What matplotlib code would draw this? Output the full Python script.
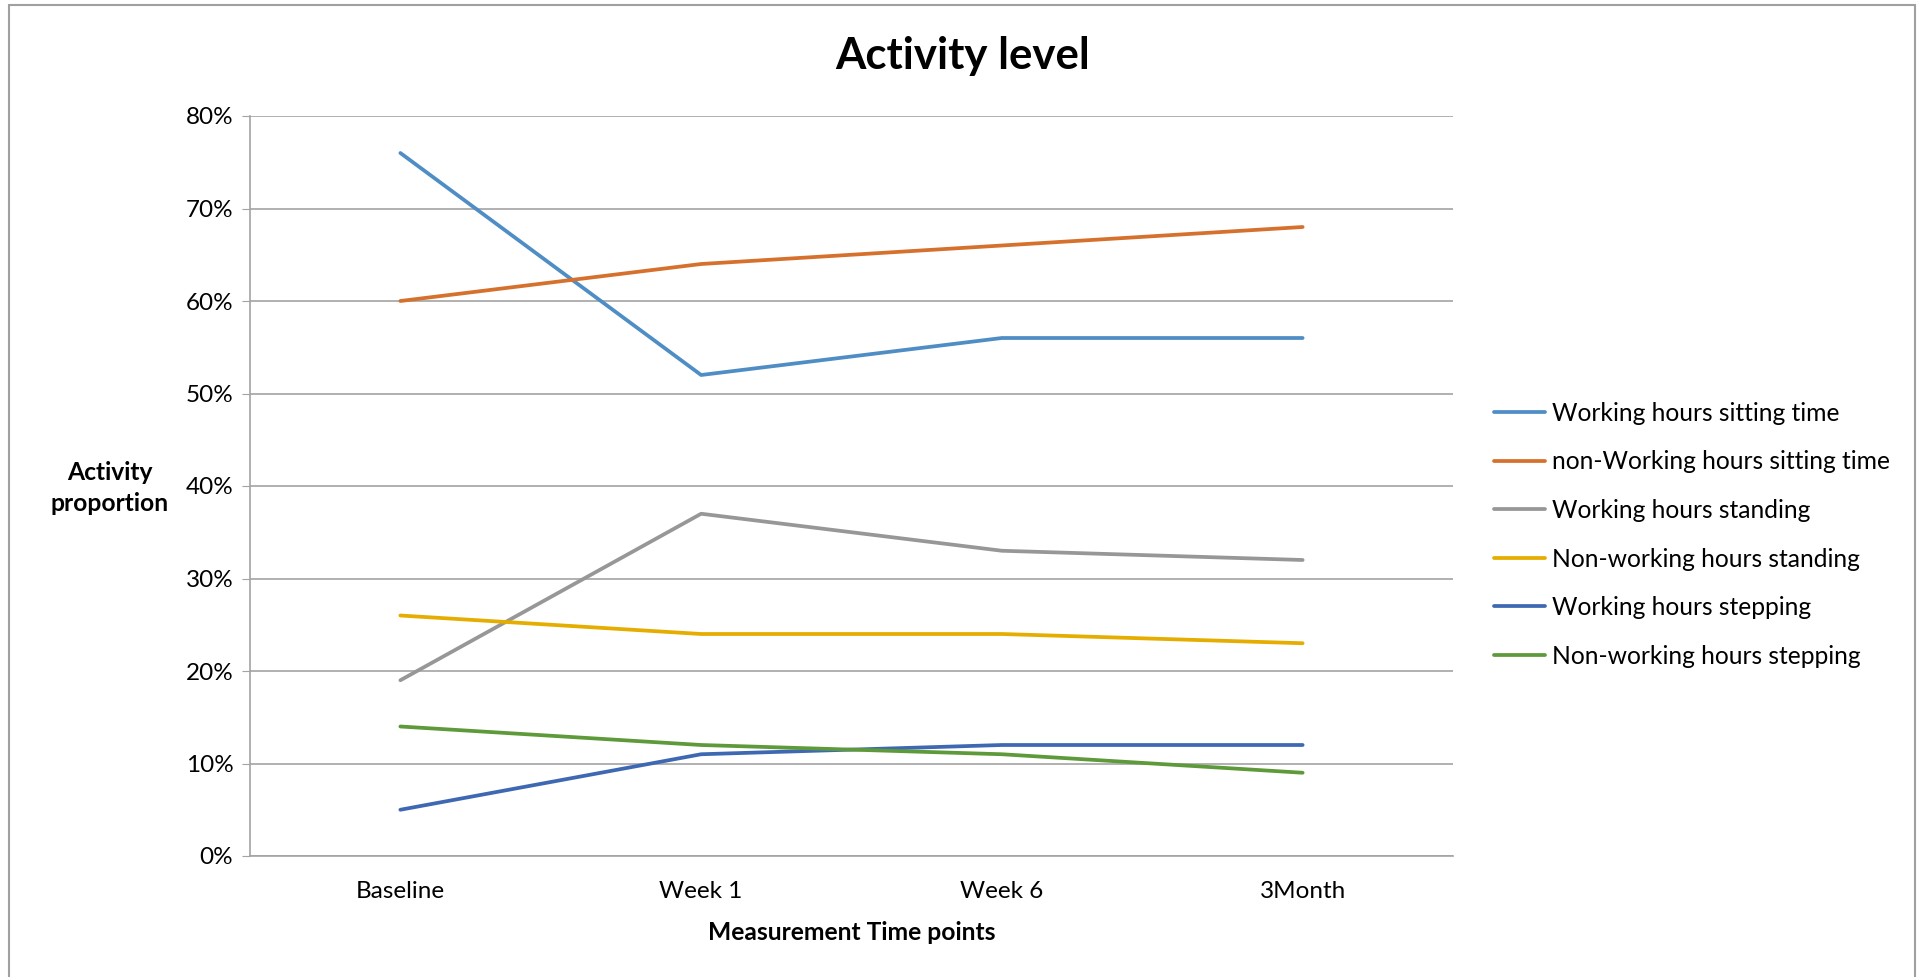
import matplotlib
matplotlib.use("Agg")
import matplotlib.pyplot as plt
from matplotlib.patches import Rectangle
from matplotlib.ticker import FuncFormatter, MultipleLocator

plt.rcParams['font.family'] = ['Lato', 'DejaVu Sans']

timepoints = ["Baseline", "Week 1", "Week 6", "3Month"]

work_sitting = [76, 52, 56, 56]
nonwork_sitting = [60, 64, 66, 68]
work_standing = [19, 37, 33, 32]
nonwork_standing = [26, 24, 24, 23]
work_stepping = [5, 11, 12, 12]
nonwork_stepping = [14, 12, 11, 9]

series_names = [
    "Working hours sitting time",
    "non-Working hours sitting time",
    "Working hours standing",
    "Non-working hours standing",
    "Working hours stepping",
    "Non-working hours stepping",
]
series_values = [work_sitting, nonwork_sitting, work_standing,
                 nonwork_standing, work_stepping, nonwork_stepping]
series_colors = ["#4F8DC5", "#D6702D", "#979797", "#E5AD00", "#3F68B2", "#5E9A3A"]

W, H = 1921, 977
fig = plt.figure(figsize=(W / 100, H / 100), dpi=100)
fig.patch.set_facecolor("white")

# axes box in pixel units
left, right, top, bottom = 250, 1453, 116, 856
ax = fig.add_axes([left / W, 1 - bottom / H, (right - left) / W, (bottom - top) / H])

x = list(range(len(timepoints)))
for name, vals, col in zip(series_names, series_values, series_colors):
    ax.plot(x, vals, color=col, linewidth=2.7, label=name, solid_capstyle="round")

ax.set_xlim(-0.5, len(timepoints) - 0.5)
ax.set_ylim(0, 80)
ax.yaxis.set_major_locator(MultipleLocator(10))
ax.yaxis.set_major_formatter(FuncFormatter(lambda v, p: f"{int(round(v))}%"))
ax.set_xticks(x)
ax.set_xticklabels(timepoints)

grid_col = "#A3A3A3"
ax.grid(axis="y", color=grid_col, linewidth=1.2)
ax.set_axisbelow(True)
for s in ["top", "right"]:
    ax.spines[s].set_visible(False)
for s in ["left", "bottom"]:
    ax.spines[s].set_color(grid_col)
    ax.spines[s].set_linewidth(1.2)
ax.tick_params(axis="y", length=6, color=grid_col, labelsize=17.5, pad=6)
ax.tick_params(axis="x", length=0, labelsize=17.5, pad=18)

ax.set_xlabel("Measurement Time points", fontsize=17.7, fontweight="bold", labelpad=14)
fig.text(110 / W, 1 - 488 / H, "Activity\nproportion", fontsize=17.7, fontweight="bold",
         ha="center", va="center", linespacing=1.38)

fig.text(963 / W, 1 - 56 / H, "Activity level", fontsize=31.5, fontweight="bold",
         ha="center", va="center")

leg = fig.legend(loc="upper left", bbox_to_anchor=(1484 / W, 1 - 392 / H),
                 frameon=False, fontsize=17.7, handlelength=2.08, handletextpad=0.3,
                 labelspacing=1.04, borderaxespad=0)

# outer chart frame
fig.add_artist(Rectangle((9 / W, -0.05), (1915 - 9) / W, 1.05 - 5 / H,
                         transform=fig.transFigure, fill=False,
                         edgecolor="#A0A0A0", linewidth=1.5))

fig.savefig("out.png", dpi=100, facecolor="white")
